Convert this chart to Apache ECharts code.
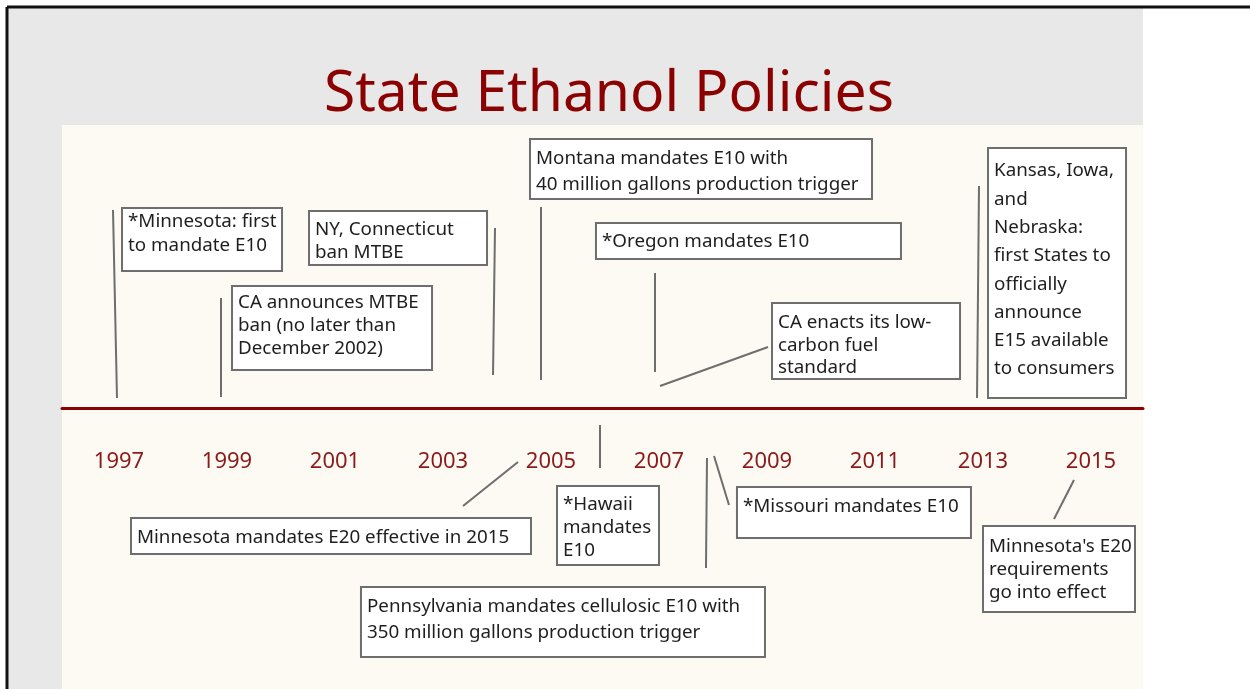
<!DOCTYPE html>
<html>
<head>
<meta charset="utf-8">
<title>State Ethanol Policies</title>
<script src="https://cdn.jsdelivr.net/npm/echarts@6/dist/echarts.min.js"></script>
<style>
  html, body { margin: 0; padding: 0; background: #fff; }
  #timeline { width: 1250px; height: 689px; }
</style>
</head>
<body>
<div id="timeline"></div>
<script>
// tick labels on the timeline
var tickYears = [1997, 1999, 2001, 2003, 2005, 2007, 2009, 2011, 2013, 2015];

// events: year and caption
var eventYears = [1997, 1999, 2004, 2005, 2007, 2007, 2013, 2005, 2006, 2008, 2008, 2015];
var eventTexts = [
  '*Minnesota: first\nto mandate E10',
  'CA announces MTBE\nban (no later than\nDecember 2002)',
  'NY, Connecticut\nban MTBE',
  'Montana mandates E10 with\n40 million gallons production trigger',
  '*Oregon mandates E10',
  'CA enacts its low-\ncarbon fuel\nstandard',
  'Kansas, Iowa,\nand\nNebraska:\nfirst States to\nofficially\nannounce\nE15 available\nto consumers',
  'Minnesota mandates E20 effective in 2015',
  '*Hawaii\nmandates\nE10',
  'Pennsylvania mandates cellulosic E10 with\n350 million gallons production trigger',
  '*Missouri mandates E10',
  "Minnesota's E20\nrequirements\ngo into effect"
];

// layout (kept apart from the data): connector ends and box corner in axis units,
// box size / text spacing in pixels
var layout = [
  { from: [1996.889, 198], to: [1996.963, 10],  box: [1997.056, 200],  w: 160, h: 63,  lh: 24,   top: 14 },
  { from: [1998.889, 110], to: [1998.889, 11],  box: [1999.093, 122],  w: 200, h: 84,  lh: 23,   top: 17 },
  { from: [2003.963, 180], to: [2003.926, 33],  box: [2000.519, 197],  w: 178, h: 54,  lh: 23,   top: 19 },
  { from: [2004.815, 201], to: [2004.815, 28],  box: [2004.611, 269],  w: 342, h: 60,  lh: 26,   top: 20 },
  { from: [2006.926, 135], to: [2006.926, 36],  box: [2005.833, 185],  w: 305, h: 36,  lh: 23,   top: 19 },
  { from: [2007.019, 22],  to: [2009.019, 61],  box: [2009.093, 105],  w: 188, h: 76,  lh: 22.5, top: 20 },
  { from: [2012.926, 222], to: [2012.889, 10],  box: [2013.093, 260],  w: 138, h: 250, lh: 28.3, top: 23 },
  { from: [2004.389, -54], to: [2003.370, -98], box: [1997.222, -110], w: 400, h: 36,  lh: 23,   top: 20 },
  { from: [2005.907, -17], to: [2005.907, -60], box: [2005.111, -78],  w: 102, h: 79,  lh: 23,   top: 19 },
  { from: [2007.889, -50], to: [2007.870, -160],box: [2001.481, -179], w: 404, h: 70,  lh: 26,   top: 20 },
  { from: [2008.019, -48], to: [2008.296, -97], box: [2008.444, -79],  w: 234, h: 51,  lh: 23,   top: 20 },
  { from: [2014.685, -72], to: [2014.315, -111],box: [2013.000, -118], w: 152, h: 86,  lh: 23,   top: 21 }
];

var chart = echarts.init(document.getElementById('timeline'));

var seriesData = eventYears.map(function (y, i) { return [y, 0, i]; });

function renderEvent(params, api) {
  var i = api.value(2);
  var L = layout[i];
  var p1 = api.coord(L.from);
  var p2 = api.coord(L.to);
  var b = api.coord(L.box);
  var lines = eventTexts[i].split('\n');
  var children = [
    {
      type: 'line',
      shape: { x1: p1[0], y1: p1[1], x2: p2[0], y2: p2[1] },
      style: { stroke: '#6e6e6e', lineWidth: 2 }
    },
    {
      type: 'rect',
      shape: { x: b[0], y: b[1], width: L.w, height: L.h },
      style: { fill: '#ffffff', stroke: '#6e6e6e', lineWidth: 2 }
    }
  ];
  lines.forEach(function (t, k) {
    children.push({
      type: 'text',
      style: {
        x: b[0] + 6,
        y: b[1] + L.top + k * L.lh,
        text: t,
        fill: '#1e1e1e',
        font: '18.8px "Noto Sans", sans-serif',
        verticalAlign: 'middle'
      }
    });
  });
  return { type: 'group', children: children };
}

var option = {
  backgroundColor: '#ffffff',
  animation: false,
  title: {
    text: 'State Ethanol Policies',
    left: 604,
    top: 61,
    textAlign: 'center',
    textStyle: {
      color: '#8b0000',
      fontSize: 57,
      fontWeight: 'normal',
      fontFamily: '"Noto Sans", sans-serif'
    }
  },
  graphic: [
    { type: 'rect', z: -10, shape: { x: 8, y: 8, width: 1135, height: 681 }, style: { fill: '#e8e8e8' } },
    { type: 'line', z: 10, shape: { x1: 7, y1: 7, x2: 1250, y2: 7 }, style: { stroke: '#111', lineWidth: 3 } },
    { type: 'line', z: 10, shape: { x1: 7, y1: 7, x2: 7, y2: 689 }, style: { stroke: '#111', lineWidth: 3 } }
  ],
  grid: {
    left: 62,
    right: 107,
    top: 125,
    bottom: 0,
    containLabel: false,
    outerBoundsMode: 'none',
    show: true,
    backgroundColor: '#fdfaf3',
    borderWidth: 0
  },
  xAxis: {
    type: 'value',
    position: 'bottom',
    offset: -281,
    min: 1997 - 57 / 54,
    max: 1997 + 1024 / 54,
    axisLine: { onZero: false, lineStyle: { color: '#8b0000', width: 3 } },
    axisTick: { show: false },
    splitLine: { show: false },
    axisLabel: {
      customValues: tickYears,
      color: '#8b1a1a',
      fontSize: 22,
      margin: 43,
      fontFamily: '"Noto Sans", sans-serif',
      formatter: function (v) { return String(v); }
    }
  },
  yAxis: {
    type: 'value',
    min: -281,
    max: 283,
    show: false
  },
  series: [
    {
      type: 'custom',
      renderItem: renderEvent,
      data: seriesData,
      clip: false,
      z: 5
    }
  ]
};

chart.setOption(option);
</script>
</body>
</html>
